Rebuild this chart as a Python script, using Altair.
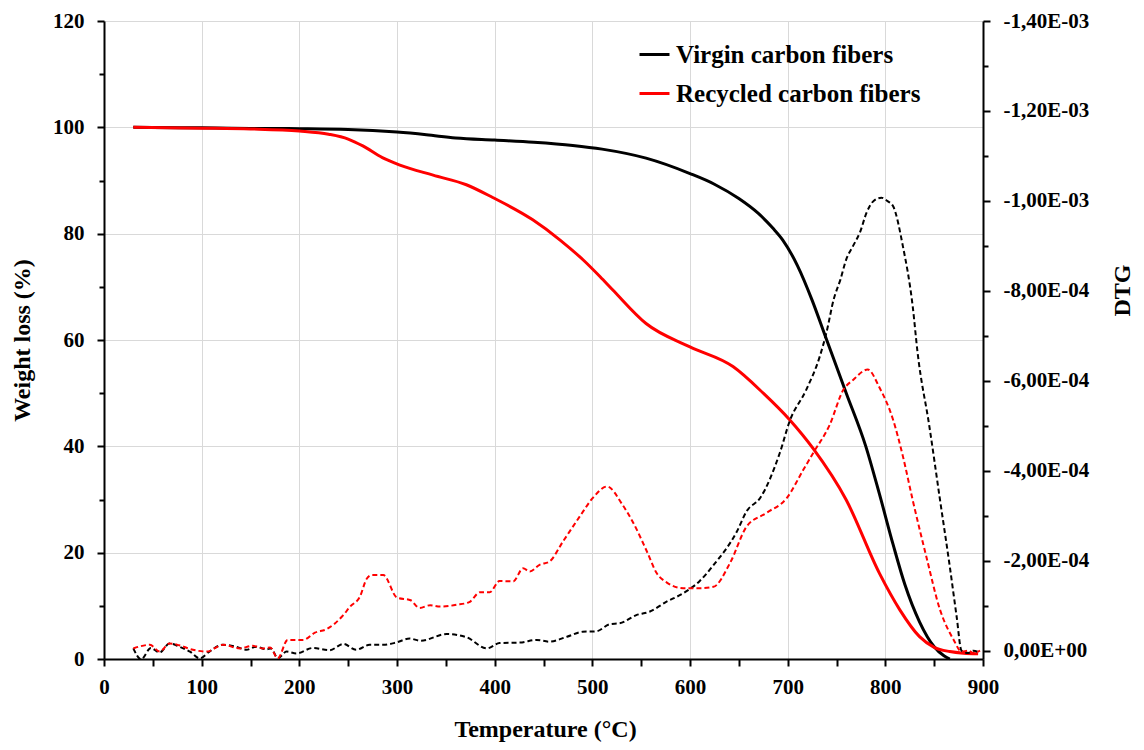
import altair as alt
import pandas as pd

SERIES = ["Virgin carbon fibers", "Recycled carbon fibers"]
COLORS = ["#000000", "#ff0000"]
FONT = "Liberation Serif"

# ---- TG curves: temperature (°C) and weight (%)
virgin_tg_temp = [30, 50, 100, 150, 200, 250, 300, 330, 360, 400, 440, 480, 510, 555, 600,
                  625, 650, 670, 685, 695, 710, 725, 738, 760, 780, 794, 808, 820, 835, 850, 860, 866]
virgin_tg_weight = [100.0, 99.95, 99.9, 99.8, 99.75, 99.6, 99.1, 98.6, 98.0, 97.6, 97.2, 96.6, 95.9, 94.2, 91.3,
                    89.3, 86.6, 83.8, 81.0, 78.8, 74.0, 67.5, 61.0, 50.0, 40.0, 31.0, 21.5, 14.0, 7.0, 2.3, 0.6, 0.0]

recycled_tg_temp = [30, 100, 150, 200, 230, 250, 265, 285, 303, 337, 371, 398, 439, 467, 491, 508,
                    521, 555, 600, 644, 675, 702, 726, 760, 794, 815, 835, 850, 866, 880, 895]
recycled_tg_weight = [100.0, 99.85, 99.7, 99.3, 98.7, 97.8, 96.5, 94.3, 92.9, 91.0, 89.2, 86.8, 82.6, 78.8, 75.0, 71.9,
                      69.4, 63.1, 58.7, 55.0, 50.0, 45.0, 39.6, 29.9, 16.1, 9.2, 4.2, 2.2, 1.4, 1.1, 1.0]

# ---- DTG curves: temperature (°C) and -DTG in units of 1E-04
virgin_dtg_temp = [30, 38, 48, 57, 67, 77, 88, 98, 108, 121, 135, 146, 156, 166, 171, 178, 187, 197,
                   214, 231, 245, 258, 272, 286, 299, 313, 324, 351, 371, 392, 405, 426, 443, 456,
                   474, 490, 504, 518, 528, 545, 559, 576, 590, 610, 624, 648, 658, 672, 692, 702,
                   719, 733, 740, 747, 754, 760, 767, 774, 781, 788, 796, 802, 808, 818, 828, 833,
                   845, 856, 866, 873, 878, 885, 890, 897]
virgin_dtg_e4 = [0.05, -0.19, 0.06, -0.04, 0.16, 0.09, -0.02, -0.17, -0.02, 0.13, 0.09, 0.02, 0.09, 0.03, 0.05, -0.17, -0.02, -0.06,
                 0.06, 0.01, 0.15, 0.02, 0.13, 0.13, 0.18, 0.27, 0.22, 0.37, 0.30, 0.05, 0.17, 0.18, 0.24, 0.20,
                 0.31, 0.42, 0.43, 0.59, 0.61, 0.79, 0.87, 1.09, 1.24, 1.55, 1.90, 2.65, 3.10, 3.40, 4.40, 5.10,
                 5.80, 6.55, 7.10, 7.80, 8.25, 8.70, 9.00, 9.30, 9.75, 10.00, 10.07, 10.00, 9.88, 8.99, 7.66, 6.63,
                 5.00, 3.35, 1.87, 0.76, 0.00, -0.05, 0.00, -0.05]

recycled_dtg_temp = [30, 47, 57, 67, 77, 91, 105, 122, 139, 152, 163, 170, 178, 188, 204, 216, 228, 245,
                     252, 262, 269, 274, 286, 300, 314, 323, 334, 344, 361, 374, 385, 395, 405, 419,
                     429, 436, 446, 456, 470, 487, 501, 515, 531, 542, 556, 566, 576, 593, 610, 624,
                     641, 658, 678, 699, 716, 726, 743, 757, 767, 782, 794, 808, 818, 828, 842, 856,
                     870, 878, 885, 890, 897]
recycled_dtg_e4 = [0.05, 0.13, -0.02, 0.16, 0.12, 0.02, -0.02, 0.13, 0.05, 0.11, 0.05, 0.07, -0.17, 0.24, 0.24, 0.40, 0.48, 0.79,
                   0.98, 1.20, 1.60, 1.68, 1.68, 1.18, 1.12, 0.95, 1.01, 0.98, 1.02, 1.08, 1.30, 1.30, 1.55, 1.54,
                   1.83, 1.76, 1.91, 1.98, 2.43, 2.98, 3.41, 3.65, 3.24, 2.84, 2.20, 1.72, 1.52, 1.39, 1.39, 1.42,
                   1.95, 2.76, 3.06, 3.39, 4.02, 4.39, 5.02, 5.80, 6.02, 6.25, 5.85, 5.13, 4.32, 3.35, 2.09, 0.91,
                   0.24, -0.02, 0.00, -0.05, 0.00]

# ---- axis ticks and labels
x_ticks = list(range(0, 901, 50))
w_ticks = list(range(0, 121, 10))
dtg_ticks_e4 = list(range(0, 15))
dtg_labels = ["0,00E+00", "-2,00E-04", "-4,00E-04", "-6,00E-04",
              "-8,00E-04", "-1,00E-03", "-1,20E-03", "-1,40E-03"]

tg = pd.concat([
    pd.DataFrame({"T": virgin_tg_temp, "W": virgin_tg_weight, "sample": SERIES[0]}),
    pd.DataFrame({"T": recycled_tg_temp, "W": recycled_tg_weight, "sample": SERIES[1]}),
])
dtg = pd.concat([
    pd.DataFrame({"T": virgin_dtg_temp, "D": [-v * 1e-4 for v in virgin_dtg_e4], "sample": SERIES[0]}),
    pd.DataFrame({"T": recycled_dtg_temp, "D": [-v * 1e-4 for v in recycled_dtg_e4], "sample": SERIES[1]}),
])

common = dict(
    domainColor="black", domainWidth=2, tickColor="black", tickWidth=2,
    labelFont=FONT, labelFontSize=21, labelFontWeight="bold", labelColor="black",
    titleFont=FONT, titleFontSize=24, titleFontWeight="bold", titleColor="black",
    labelOverlap=False, labelFlush=False,
)

x_axis = alt.Axis(
    values=x_ticks, title="Temperature (°C)",
    labelExpr="datum.value % 100 === 0 ? datum.label : ''",
    grid=True, gridColor="#d9d9d9", gridWidth=1,
    gridOpacity={"condition": {"test": "datum.value % 100 === 0", "value": 1}, "value": 0},
    tickSize=7, labelPadding=10,
    titleX=441, titleY=77, titleAlign="center", titleBaseline="alphabetic",
    **common,
)

w_axis = alt.Axis(
    values=w_ticks, title="Weight loss (%)", orient="left",
    labelExpr="datum.value % 20 === 0 ? datum.label : ''",
    grid=True, gridColor="#d9d9d9", gridWidth=1,
    gridOpacity={"condition": {"test": "datum.value % 20 === 0", "value": 1}, "value": 0},
    tickSize={"condition": {"test": "datum.value % 20 === 0", "value": 7}, "value": 5},
    labelPadding=13,
    titleX=-82, titleY=319, titleAngle=270, titleAlign="center", titleBaseline="middle",
    **common,
)

label_array = "[" + ",".join("'" + s + "'" for s in dtg_labels) + "]"
k_expr = "round(-datum.value*10000)"
dtg_axis = alt.Axis(
    values=[-k * 1e-4 for k in dtg_ticks_e4], title="DTG", orient="right",
    labelExpr=f"{k_expr} % 2 === 0 ? {label_array}[{k_expr}/2] : ''",
    grid=False,
    tickSize={"condition": {"test": f"{k_expr} % 2 === 0", "value": 7}, "value": 5},
    labelPadding=13,
    titleX=139, titleY=269, titleAngle=270, titleAlign="center", titleBaseline="middle",
    **common,
)

x_scale = alt.Scale(domain=[0, 900], nice=False, zero=False)

tg_chart = alt.Chart(tg).mark_line(strokeWidth=3, interpolate="monotone").encode(
    x=alt.X("T:Q", scale=x_scale, axis=x_axis),
    y=alt.Y("W:Q", scale=alt.Scale(domain=[0, 120], nice=False), axis=w_axis),
    color=alt.Color("sample:N", scale=alt.Scale(domain=SERIES, range=COLORS),
                    legend=alt.Legend(
                        title=None, orient="none", legendX=534, legendY=17, padding=0,
                        symbolType="stroke", symbolStrokeWidth=3, symbolSize=900,
                        labelFont=FONT, labelFontSize=25, labelFontWeight="bold", labelColor="black",
                        labelOffset=5, rowPadding=9, labelLimit=500,
                    )),
    detail="sample:N",
)

dtg_chart = alt.Chart(dtg).mark_line(strokeWidth=2, strokeDash=[5, 3], interpolate="monotone", clip=True).encode(
    x=alt.X("T:Q", scale=x_scale, axis=x_axis),
    y=alt.Y("D:Q", scale=alt.Scale(domain=[-0.0014, 0.0000185], reverse=True, nice=False, zero=False),
            axis=dtg_axis),
    color=alt.Color("sample:N", scale=alt.Scale(domain=SERIES, range=COLORS), legend=None),
    detail="sample:N",
)

chart = alt.layer(tg_chart, dtg_chart).resolve_scale(y="independent", color="independent").properties(
    width=879, height=638,
    autosize=alt.AutoSizeParams(type="none"),
    padding={"left": 96, "top": 13, "right": 153, "bottom": 83},
).configure_view(stroke=None)

chart.save("out.html", embed_options={"renderer": "svg", "actions": False})
